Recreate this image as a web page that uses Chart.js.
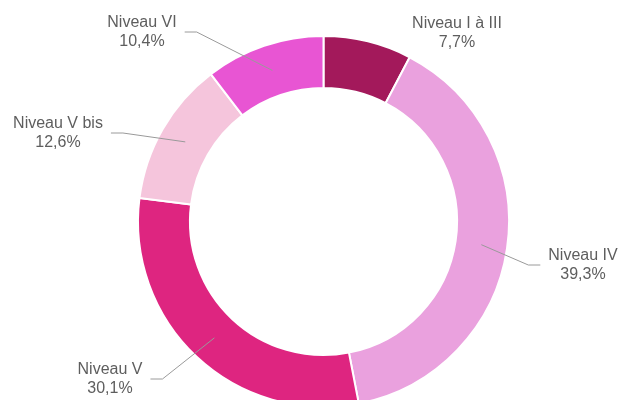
<!DOCTYPE html>
<html lang="fr">
<head>
<meta charset="utf-8">
<title>Répartition par niveau</title>
<script src="https://cdn.jsdelivr.net/npm/chart.js@4.4.1/dist/chart.umd.min.js"></script>
<style>
  html, body { margin: 0; padding: 0; background: #ffffff; overflow: hidden; }
  #wrap { position: relative; width: 623px; height: 400px; overflow: hidden; }
  canvas { display: block; }
</style>
</head>
<body>
<div id="wrap"><canvas id="chart" width="623" height="443"></canvas></div>
<script>
// Répartition (%) par niveau de formation
const categories = ['Niveau I à III', 'Niveau IV', 'Niveau V', 'Niveau V bis', 'Niveau VI'];
const shares = [7.7, 39.3, 30.1, 12.6, 10.4];
const valueLabels = ['7,7%', '39,3%', '30,1%', '12,6%', '10,4%'];
const sliceColors = ['#A3195B', '#EAA1DE', '#DE2580', '#F5C5DC', '#E855D3'];

// Placement of each label block relative to the ring centre; side = where the leader line leaves the text
const labelPlacement = [
  { dx: 133.5, dy: -188.5, side: null },
  { dx: 259.5, dy: 43.5, side: 'left' },
  { dx: -213.5, dy: 157.5, side: 'right' },
  { dx: -265.5, dy: -88.5, side: 'right' },
  { dx: -181.5, dy: -189.5, side: 'right' }
];

const LABEL_FONT = '16px "Liberation Sans", Arial, sans-serif';
const LINE_GAP = 19;

const calloutPlugin = {
  id: 'callouts',
  afterDatasetsDraw(chart) {
    const ctx = chart.ctx;
    const meta = chart.getDatasetMeta(0);
    ctx.save();
    ctx.font = LABEL_FONT;
    ctx.textAlign = 'center';
    ctx.textBaseline = 'middle';
    meta.data.forEach((arc, i) => {
      const place = labelPlacement[i];
      const cx = arc.x + place.dx;
      const cy = arc.y + place.dy;
      const w = Math.max(ctx.measureText(categories[i]).width, ctx.measureText(valueLabels[i]).width);
      if (place.side) {
        const anchor = arc.tooltipPosition();
        const dir = place.side === 'right' ? 1 : -1;
        const endX = cx + dir * (w / 2 + 8);
        const elbowX = endX + dir * 12;
        ctx.strokeStyle = '#9a9a9a';
        ctx.lineWidth = 1;
        ctx.beginPath();
        ctx.moveTo(endX, cy);
        ctx.lineTo(elbowX, cy);
        ctx.lineTo(anchor.x, anchor.y);
        ctx.stroke();
      }
      ctx.fillStyle = '#5e5e5e';
      ctx.fillText(categories[i], cx, cy - LINE_GAP / 2);
      ctx.fillText(valueLabels[i], cx, cy + LINE_GAP / 2);
    });
    ctx.restore();
  }
};

new Chart(document.getElementById('chart'), {
  type: 'doughnut',
  data: {
    labels: categories,
    datasets: [{
      data: shares,
      backgroundColor: sliceColors,
      borderColor: '#ffffff',
      borderWidth: 2,
      hoverOffset: 0
    }]
  },
  options: {
    responsive: false,
    animation: false,
    radius: 185.5,
    cutout: '72%',
    rotation: 0,
    layout: { padding: { left: 24, right: 0, top: 0, bottom: 0 } },
    plugins: {
      legend: { display: false },
      tooltip: { enabled: false }
    },
    events: []
  },
  plugins: [calloutPlugin]
});
</script>
</body>
</html>
